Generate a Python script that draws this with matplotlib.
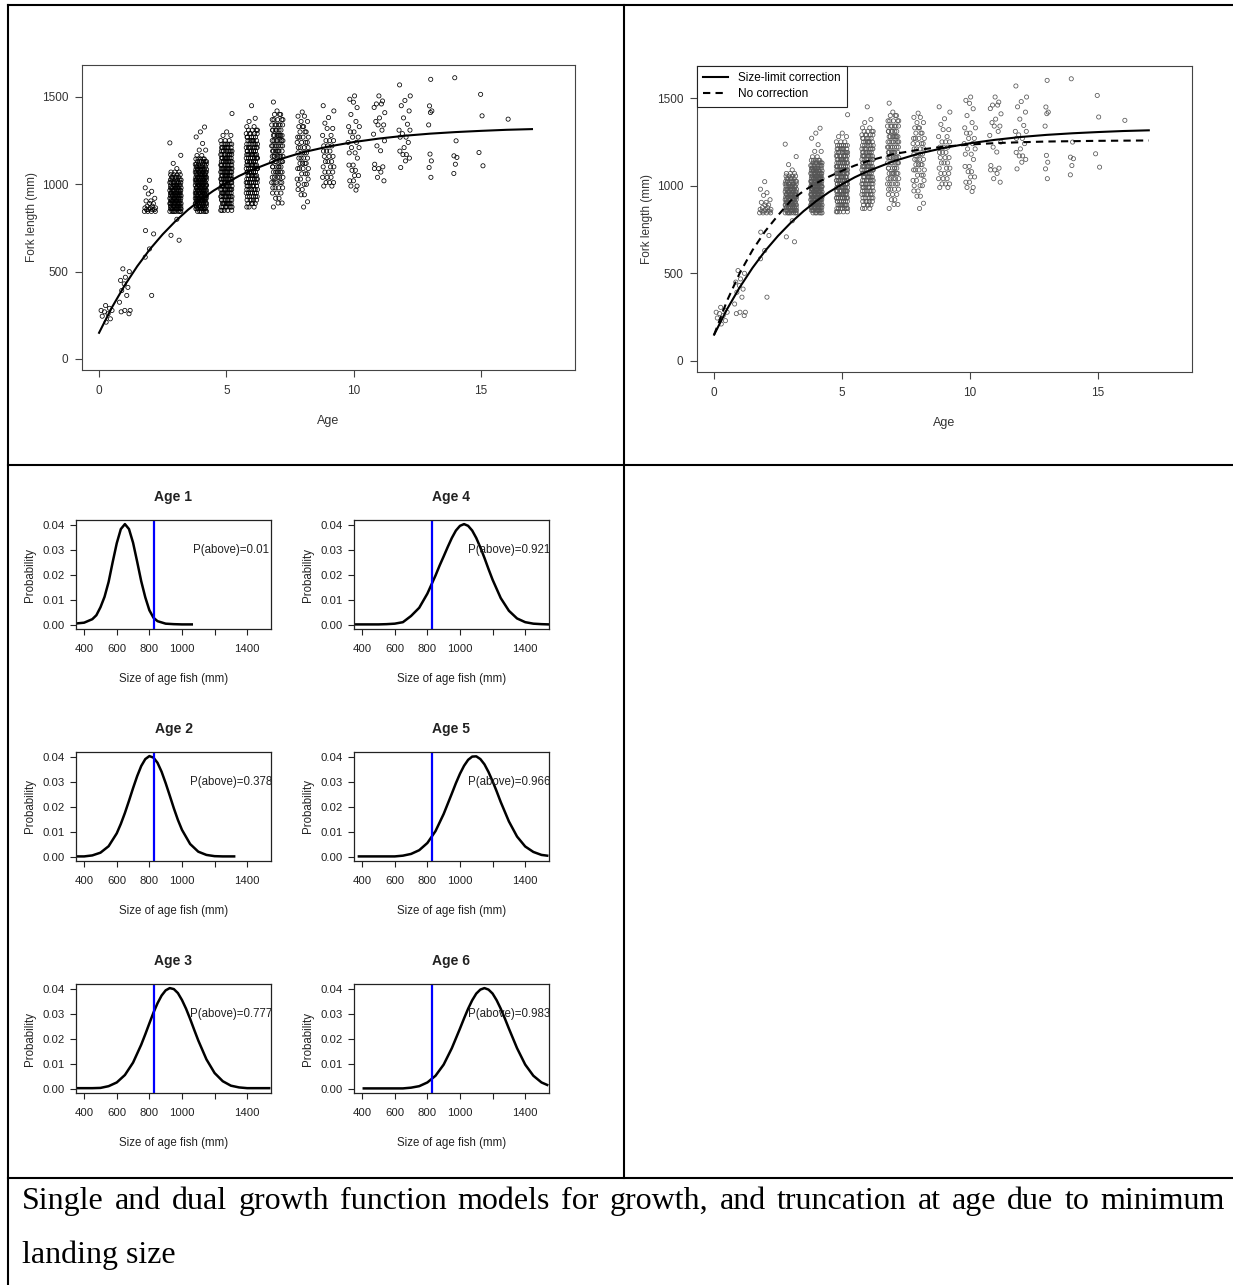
import matplotlib
matplotlib.use("Agg")
import matplotlib.pyplot as plt
from matplotlib.lines import Line2D

plt.rcParams['font.family'] = ['Liberation Sans', 'DejaVu Sans']

W, H = 1233, 1285

# fork length (mm), per age group; counts = overlapping fish
ages = [0.3, 1, 2, 3, 4, 5, 6, 7, 8, 9, 10, 11, 12, 13, 14, 15, 16]
lengths = [
    [211, 230, 245, 259, 270, 278, 290, 306],
    [259, 270, 278, 325, 364, 392, 410, 430, 450, 468, 500, 516],
    [364, 583, 630, 716, 735, 845, 855, 865, 875, 890, 905, 920, 945, 960, 980, 1023],
    [680, 708, 800, 845, 860, 875, 890, 905, 920, 935, 950, 965, 980, 995, 1010, 1025,
     1040, 1055, 1070, 1090, 1120, 1166, 1237],
    [845, 860, 875, 890, 905, 920, 935, 950, 965, 980, 995, 1010, 1025, 1040, 1055, 1070,
     1085, 1100, 1115, 1130, 1145, 1165, 1196, 1234, 1271, 1300, 1328],
    [851, 870, 890, 910, 930, 950, 970, 990, 1010, 1030, 1050, 1070, 1090, 1110, 1130, 1150,
     1170, 1190, 1210, 1230, 1250, 1280, 1300, 1405],
    [870, 890, 910, 930, 950, 970, 990, 1010, 1030, 1050, 1070, 1090, 1110, 1130, 1150, 1170,
     1190, 1210, 1230, 1250, 1270, 1290, 1310, 1330, 1360, 1378, 1450],
    [870, 893, 920, 950, 980, 1010, 1040, 1070, 1100, 1130, 1160, 1190, 1220, 1250, 1280, 1310,
     1340, 1370, 1400, 1420, 1471],
    [870, 900, 940, 970, 1000, 1030, 1060, 1090, 1120, 1150, 1180, 1210, 1240, 1270, 1300, 1330,
     1360, 1390, 1414],
    [990, 1010, 1040, 1070, 1100, 1130, 1160, 1190, 1220, 1250, 1280, 1320, 1350, 1382, 1420, 1450],
    [967, 990, 1020, 1050, 1080, 1110, 1150, 1180, 1210, 1240, 1270, 1300, 1330, 1360, 1400, 1439,
     1470, 1487, 1506],
    [1020, 1040, 1070, 1090, 1100, 1115, 1192, 1220, 1249, 1287, 1310, 1340, 1360, 1380, 1410, 1440,
     1460, 1477, 1506],
    [1096, 1134, 1150, 1170, 1190, 1210, 1240, 1270, 1290, 1310, 1344, 1380, 1420, 1450, 1480, 1506, 1569],
    [1040, 1096, 1134, 1173, 1340, 1411, 1420, 1449, 1601],
    [1062, 1115, 1154, 1163, 1249, 1610],
    [1106, 1182, 1392, 1515],
    [1373],
]
counts = [
    [1, 1, 1, 1, 1, 2, 1, 1],
    [1, 1, 2, 1, 1, 1, 1, 1, 1, 1, 1, 1],
    [1, 1, 1, 1, 1, 4, 4, 3, 2, 2, 2, 1, 1, 1, 1, 1],
    [1, 1, 1, 8, 9, 9, 9, 9, 9, 9, 9, 8, 8, 7, 7, 6, 5, 4, 3, 1, 1, 1, 1],
    [6, 8, 9, 9, 10, 10, 10, 10, 10, 10, 10, 10, 9, 9, 9, 8, 8, 7, 6, 6, 5, 2, 2, 1, 1, 1, 1],
    [5, 7, 8, 8, 9, 9, 10, 10, 10, 10, 10, 10, 10, 9, 9, 9, 8, 8, 7, 6, 3, 2, 1, 1],
    [3, 4, 5, 5, 6, 6, 6, 7, 7, 7, 8, 8, 8, 8, 8, 8, 7, 7, 6, 6, 5, 5, 4, 2, 1, 1, 1],
    [1, 2, 2, 3, 4, 5, 5, 6, 6, 6, 7, 7, 7, 7, 7, 6, 6, 5, 3, 1, 1],
    [1, 1, 2, 2, 3, 3, 3, 4, 4, 4, 4, 4, 4, 4, 3, 3, 2, 2, 1],
    [2, 3, 3, 3, 3, 3, 3, 3, 3, 3, 2, 2, 1, 1, 1, 1],
    [1, 2, 2, 2, 2, 2, 1, 2, 2, 2, 2, 2, 2, 1, 1, 1, 1, 1, 1],
    [1, 1, 1, 2, 1, 1, 1, 1, 1, 1, 1, 2, 1, 1, 1, 1, 2, 1, 1],
    [1, 1, 1, 2, 1, 1, 1, 2, 1, 2, 1, 1, 1, 1, 1, 1, 1],
    [1, 1, 1, 1, 1, 1, 1, 1, 1],
    [1, 1, 1, 1, 1, 1],
    [1, 1, 1, 1],
    [1],
]

# growth curves (mm)
curve_age = [0, 0.5, 1, 1.5, 2, 2.5, 3, 3.5, 4, 4.5, 5, 5.5, 6, 7, 8, 9, 10, 11, 12, 13, 14, 15, 16, 17]
fl_corrected = [150, 294, 420, 531, 629, 714, 789, 855, 913, 964, 1008, 1048, 1082, 1139, 1183,
                1216, 1242, 1262, 1278, 1290, 1299, 1306, 1312, 1316]
fl_no_corr = [150, 342, 501, 632, 741, 831, 915, 970, 1015, 1052, 1085, 1115, 1140, 1180, 1205,
              1223, 1235, 1243, 1248, 1252, 1254, 1256, 1257, 1258]

# size-at-age probability curves
panel_ages = [1, 2, 3, 4, 5, 6]
p_above = [0.01, 0.378, 0.777, 0.921, 0.966, 0.983]
min_size = 830
size_x = [
    [355, 400, 450, 475, 500, 525, 550, 575, 600, 625, 650, 675, 700, 725, 750, 775, 800, 825,
     850, 900, 950, 1000, 1060],
    [355, 400, 450, 500, 550, 600, 625, 650, 675, 700, 725, 750, 775, 800, 825, 850, 875, 900,
     925, 950, 975, 1000, 1050, 1100, 1150, 1200, 1250, 1320],
    [355, 400, 450, 500, 550, 600, 650, 700, 750, 775, 800, 825, 850, 875, 900, 925, 950, 975,
     1000, 1025, 1050, 1075, 1100, 1150, 1200, 1250, 1300, 1350, 1400, 1450, 1500, 1535],
    [360, 400, 450, 500, 550, 600, 650, 700, 750, 800, 850, 875, 900, 925, 950, 975, 1000, 1025,
     1050, 1075, 1100, 1125, 1150, 1175, 1200, 1250, 1300, 1350, 1400, 1450, 1500, 1545],
    [380, 400, 450, 500, 550, 600, 650, 700, 750, 800, 850, 900, 950, 975, 1000, 1025, 1050, 1075,
     1100, 1125, 1150, 1175, 1200, 1225, 1250, 1300, 1350, 1400, 1450, 1500, 1535],
    [410, 450, 500, 550, 600, 650, 700, 750, 800, 850, 900, 950, 1000, 1025, 1050, 1075, 1100,
     1125, 1150, 1175, 1200, 1225, 1250, 1275, 1300, 1350, 1400, 1450, 1500, 1535],
]
size_p = [
    [0.0005, 0.0008, 0.0022, 0.0038, 0.007, 0.0112, 0.0172, 0.0252, 0.0328, 0.0385, 0.0405,
     0.0385, 0.033, 0.0254, 0.0175, 0.011, 0.0058, 0.0028, 0.0014, 0.0004, 0.0002, 0.0001, 0.0001],
    [0.0001, 0.0001, 0.0005, 0.0016, 0.0042, 0.0094, 0.0132, 0.0176, 0.0225, 0.0276, 0.0324,
     0.0365, 0.0393, 0.0405, 0.0399, 0.0378, 0.0342, 0.0296, 0.0246, 0.0195, 0.0148, 0.0108,
     0.0051, 0.002, 0.0007, 0.0002, 0.0001, 0.0001],
    [0.0002, 0.0002, 0.0002, 0.0003, 0.001, 0.0025, 0.0055, 0.0105, 0.0177, 0.0219, 0.0263,
     0.0306, 0.0344, 0.0375, 0.0396, 0.0405, 0.0401, 0.0385, 0.0357, 0.0322, 0.0281, 0.0237,
     0.0194, 0.0118, 0.0063, 0.003, 0.0012, 0.0005, 0.0002, 0.0002, 0.0002, 0.0002],
    [0.0001, 0.0001, 0.0001, 0.0001, 0.0002, 0.0004, 0.001, 0.0035, 0.0068, 0.0125, 0.0198,
     0.0238, 0.0275, 0.0313, 0.0349, 0.0379, 0.0398, 0.0405, 0.0398, 0.0379, 0.0349, 0.0311,
     0.0269, 0.0224, 0.0181, 0.0107, 0.0056, 0.0025, 0.001, 0.0004, 0.0002, 0.0001],
    [0.0001, 0.0001, 0.0001, 0.0001, 0.0001, 0.0001, 0.0004, 0.0011, 0.0026, 0.0055, 0.0103,
     0.0172, 0.0254, 0.0296, 0.0334, 0.0366, 0.039, 0.0403, 0.0404, 0.0393, 0.0372, 0.0341,
     0.0304, 0.0263, 0.022, 0.0142, 0.0081, 0.0041, 0.0019, 0.0007, 0.0004],
    [0.0001, 0.0001, 0.0001, 0.0001, 0.0001, 0.0001, 0.0004, 0.001, 0.0025, 0.0052, 0.0097,
     0.0163, 0.0242, 0.0283, 0.0322, 0.0356, 0.0383, 0.0399, 0.0405, 0.0399, 0.0383, 0.0356,
     0.0322, 0.0283, 0.0242, 0.0163, 0.0097, 0.0052, 0.0025, 0.0015],
]

caption1 = "Single and dual growth function models for growth, and truncation at age due to minimum"
caption2 = "landing size"

# fixed jitter pattern for the age columns (like R's jitter, but repeatable)
jit = [-0.1, 0.65, -0.8, 0.25, -0.4, 0.95, -1.0, 0.5, -0.2, 0.8, -0.6, 0.05, 1.0, -0.9,
       0.4, -0.5, 0.6, -0.05, -0.7, 0.15, 0.85, -0.3, 0.3, -0.85]

px, py = [], []
k = 0
for a, ls, cs in zip(ages, lengths, counts):
    spread = 0.22 if a < 12.5 else 0.08
    for l, c in zip(ls, cs):
        for _ in range(c):
            px.append(a + spread * jit[k % len(jit)])
            py.append(l)
            k += 1


def rect(x0, y0, x1, y1):
    return [x0 / W, 1 - y1 / H, (x1 - x0) / W, (y1 - y0) / H]


fig = plt.figure(figsize=(W / 100, H / 100), dpi=100)
ink = '#222222'


def growth_plot(r, col, legend):
    ax = fig.add_axes(r)
    ax.scatter(px, py, s=9, facecolors='none', edgecolors=col, linewidths=0.55, zorder=2)
    ax.plot(curve_age, fl_corrected, color='black', lw=1.5, zorder=3, label='Size-limit correction')
    if legend:
        ax.plot(curve_age, fl_no_corr, color='black', lw=1.5, ls=(0, (3.5, 2.5)), zorder=3,
                label='No correction')
        lg = ax.legend(loc='upper left', bbox_to_anchor=(0, 1), borderaxespad=0, fontsize=8.5,
                       fancybox=False, edgecolor=ink, framealpha=1, handlelength=2.1,
                       handletextpad=0.8, borderpad=0.55, labelspacing=0.3)
        lg.get_frame().set_linewidth(0.8)
    ax.set_xlim(-0.67, 18.69)
    ax.set_ylim(-63, 1683)
    ax.set_xticks([0, 5, 10, 15])
    ax.set_yticks([0, 500, 1000, 1500])
    for s in ax.spines.values():
        s.set_linewidth(0.8)
        s.set_color('#444444')
    ax.tick_params(direction='out', length=5, width=0.8, labelsize=8.5, colors='#444444',
                   labelcolor='#333333')
    ax.tick_params(axis='x', pad=6)
    ax.tick_params(axis='y', pad=5)
    ax.text(-0.101, 0.5, 'Fork length (mm)', rotation=90, ha='center', va='center',
            fontsize=8.5, color='#333333', transform=ax.transAxes)
    ax.text(0.5, -0.167, 'Age', ha='center', va='center', fontsize=9, color='#333333',
            transform=ax.transAxes)


growth_plot(rect(82, 65, 575, 370), 'black', False)
growth_plot(rect(697, 66, 1192, 372), '#555555', True)

cols = [76, 354]
rows = [520, 752, 984]
for i, age in enumerate(panel_ages):
    x0 = cols[i // 3]
    y0 = rows[i % 3]
    ax = fig.add_axes(rect(x0, y0, x0 + 195, y0 + 109))
    ax.plot(size_x[i], size_p[i], color='black', lw=1.8, solid_joinstyle='round')
    ax.axvline(min_size, color='#0000ff', lw=1.6)
    ax.set_xlim(350, 1546)
    ax.set_ylim(-0.00175, 0.04215)
    ax.set_xticks([400, 600, 800, 1000, 1200, 1400])
    ax.set_xticklabels(['400', '600', '800', '1000', '', '1400'])
    ax.set_yticks([0, 0.01, 0.02, 0.03, 0.04])
    ax.set_yticklabels(['0.00', '0.01', '0.02', '0.03', '0.04'])
    for s in ax.spines.values():
        s.set_linewidth(0.9)
        s.set_color(ink)
    ax.tick_params(direction='out', length=4, width=0.8, labelsize=8.2, colors=ink)
    ax.tick_params(axis='x', pad=7)
    ax.tick_params(axis='y', pad=4)
    ax.text(1300, 0.03, f'P(above)={p_above[i]}', ha='center', va='center', fontsize=8.3,
            color=ink, clip_on=False)
    ax.text(0.5, 1 + 23 / 109, f'Age {age}', ha='center', va='center', fontsize=10,
            fontweight='bold', color=ink, transform=ax.transAxes)
    ax.text(-46 / 195, 0.5, 'Probability', rotation=90, ha='center', va='center',
            fontsize=8.3, color=ink, transform=ax.transAxes)
    ax.text(0.5, -50 / 109, 'Size of age fish (mm)', ha='center', va='center',
            fontsize=8.3, color=ink, transform=ax.transAxes)

# table borders
for (xa, ya, xb, yb) in [(8, 5, 1233, 5), (8, 5, 8, 1285), (624, 5, 624, 1178),
                         (8, 465, 1233, 465), (8, 1178, 1233, 1178)]:
    fig.add_artist(Line2D([xa / W, xb / W], [1 - ya / H, 1 - yb / H], color='black', lw=1.5,
                          transform=fig.transFigure))

# caption, first line justified
renderer = fig.canvas.get_renderer()
words = caption1.split()
objs = [fig.text(0, 1 - 1209 / H, w, family='Liberation Serif', fontsize=23, va='baseline')
        for w in words]
widths = [o.get_window_extent(renderer).width for o in objs]
gap = (1225 - 22 - sum(widths)) / (len(words) - 1)
x = 22
for o, w in zip(objs, widths):
    o.set_x(x / W)
    x += w + gap
fig.text(22 / W, 1 - 1263 / H, caption2, family='Liberation Serif', fontsize=23, va='baseline')

fig.savefig('out.png', dpi=100)
